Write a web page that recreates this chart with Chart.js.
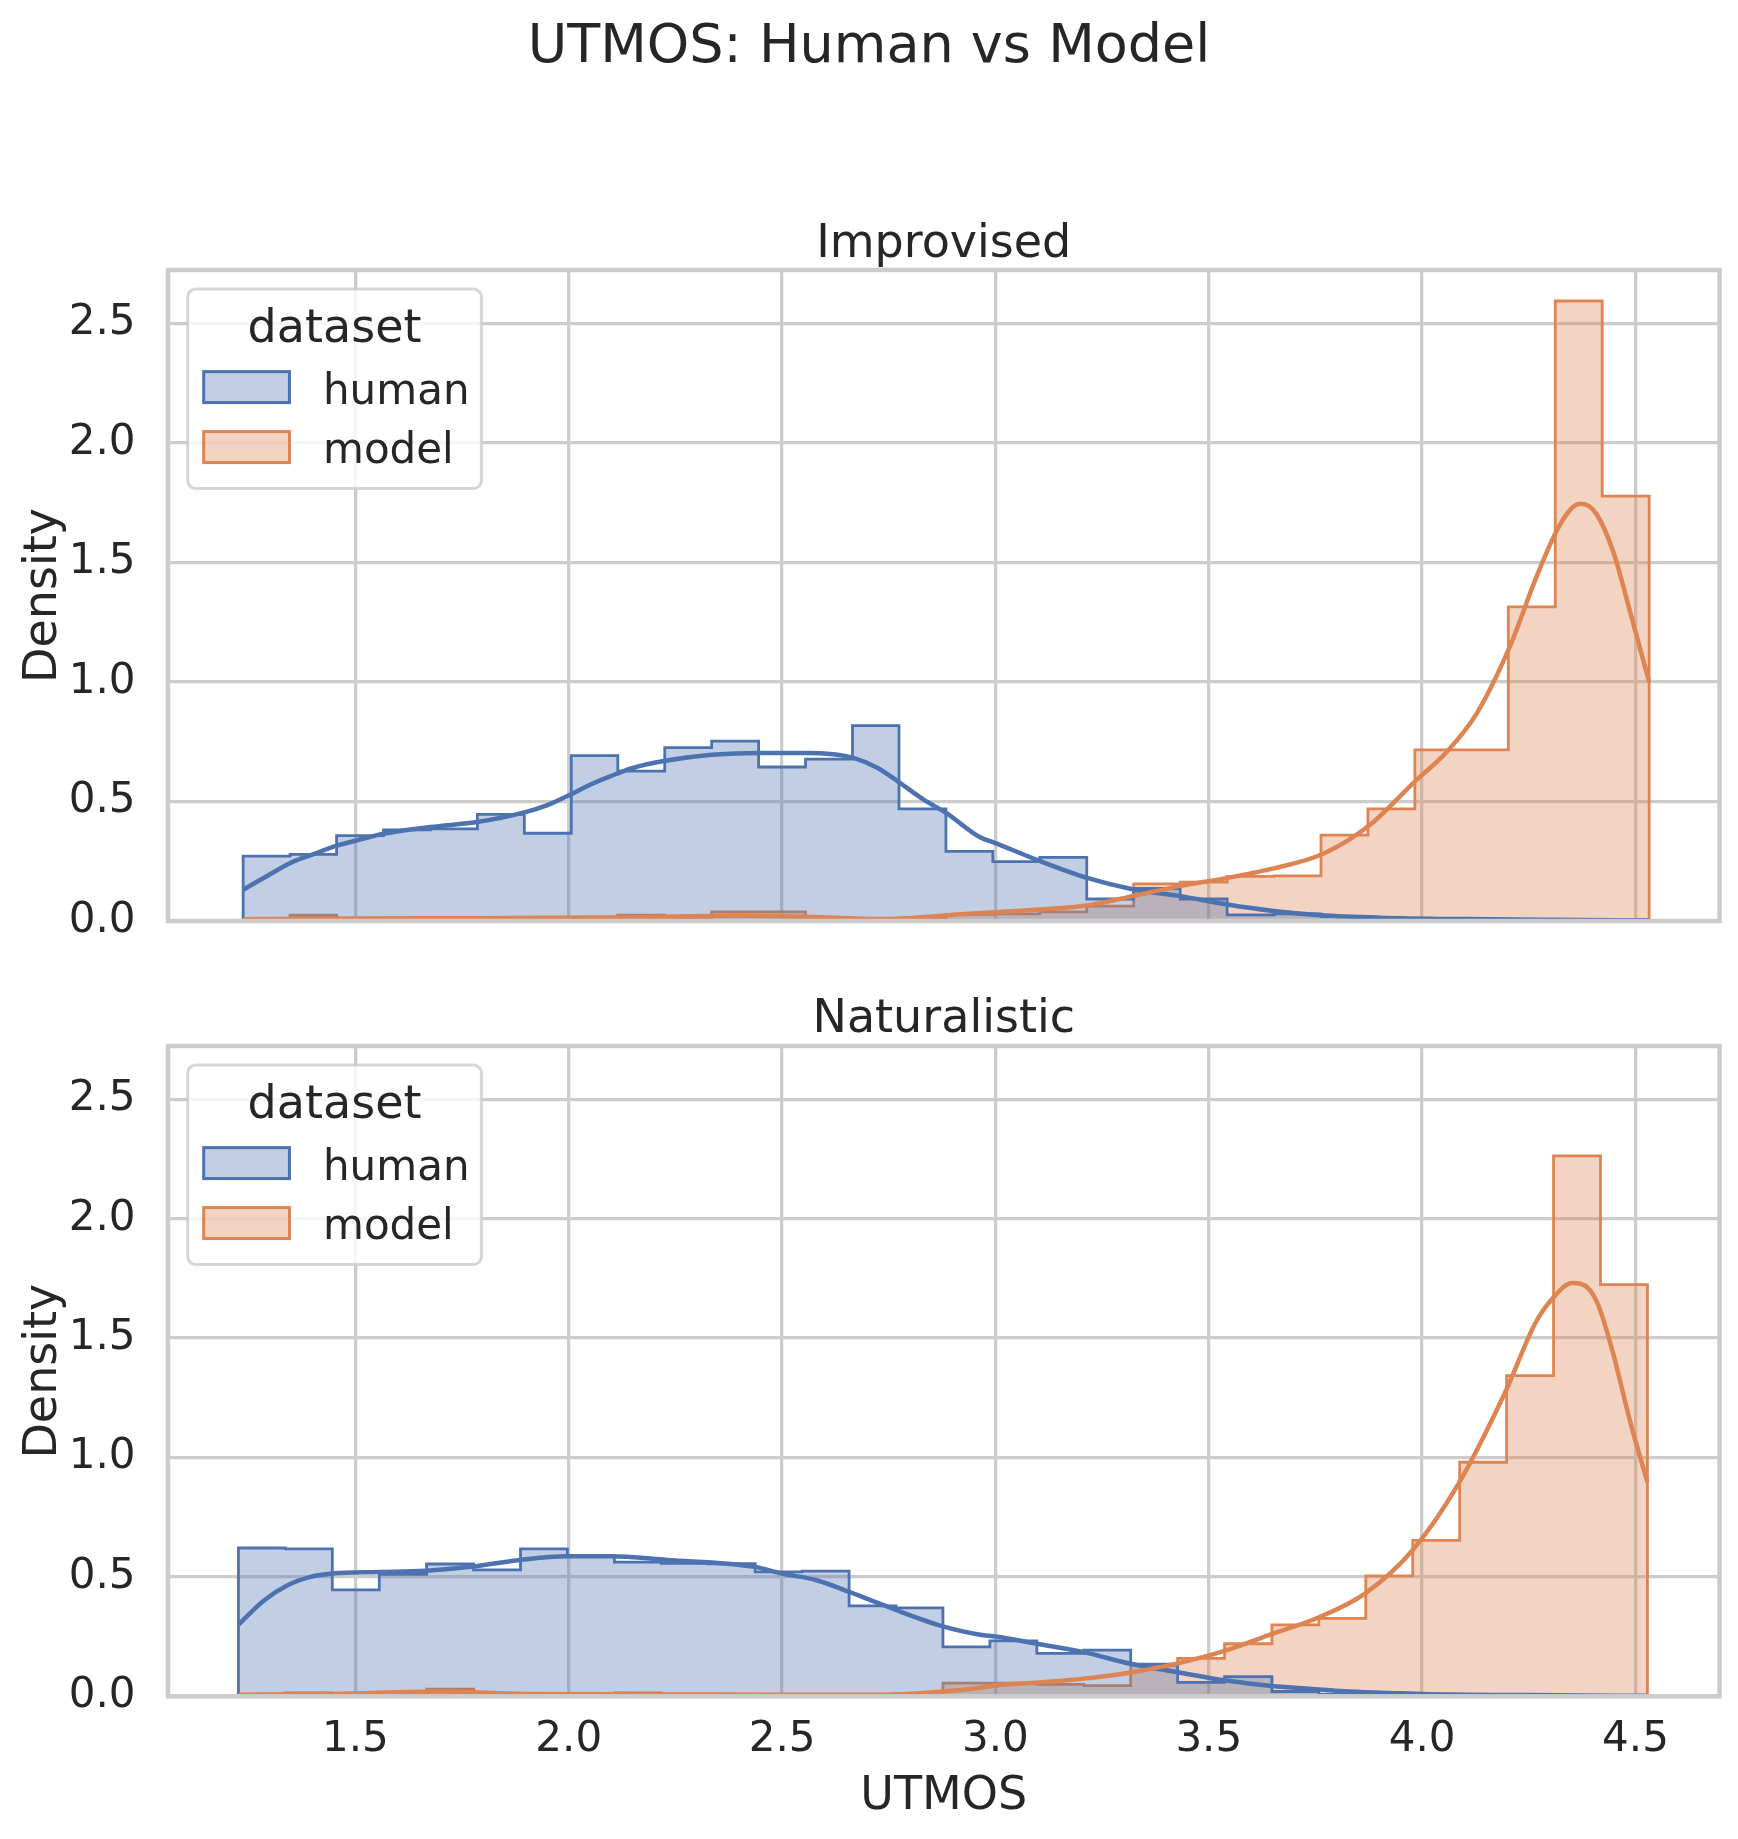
<!DOCTYPE html>
<html>
<head>
<meta charset="utf-8">
<title>UTMOS: Human vs Model</title>
<script src="https://cdn.jsdelivr.net/npm/chart.js@4.4.1/dist/chart.umd.min.js"></script>
<style>
  html, body { margin: 0; padding: 0; background: #ffffff; }
  #wrap { position: relative; width: 1738px; height: 1839px; }
  canvas { position: absolute; left: 0; }
  #suptitle {
    position: absolute; left: 0; top: 17px; width: 1738px; text-align: center;
    font: 54px/54px "DejaVu Sans", sans-serif; color: #262626; white-space: nowrap;
  }
</style>
</head>
<body>
<div id="wrap">
  <div id="suptitle">UTMOS: Human vs Model</div>
  <canvas id="improvised" width="1738" height="990" style="top:0px"></canvas>
  <canvas id="naturalistic" width="1738" height="879" style="top:960px"></canvas>
</div>
<script>
const hueLabels = ['human', 'model'];
const xTicks = [1.5, 2.0, 2.5, 3.0, 3.5, 4.0, 4.5];
const yTicks = [0.0, 0.5, 1.0, 1.5, 2.0, 2.5];

// Improvised facet: 30 histogram bins (edges)
const improvisedEdges = [1.237, 1.347, 1.456, 1.566, 1.676, 1.786, 1.896, 2.006, 2.115, 2.225,
  2.335, 2.445, 2.555, 2.665, 2.774, 2.884, 2.994, 3.104, 3.214, 3.324,
  3.433, 3.543, 3.653, 3.763, 3.873, 3.983, 4.092, 4.202, 4.312, 4.422, 4.532];
const improvisedHuman = [0.271, 0.279, 0.357, 0.381, 0.385, 0.446, 0.367, 0.692, 0.627, 0.725,
  0.752, 0.644, 0.677, 0.817, 0.469, 0.291, 0.248, 0.266, 0.092, 0.136,
  0.092, 0.026, 0.030, 0.018, 0.008, 0.005, 0.003, 0.003, 0.000, 0.002];
const improvisedModel = [0.008, 0.024, 0.008, 0.008, 0.013, 0.006, 0.013, 0.008, 0.024, 0.010,
  0.038, 0.038, 0.012, 0.008, 0.012, 0.028, 0.030, 0.038, 0.062, 0.155,
  0.163, 0.187, 0.189, 0.359, 0.469, 0.716, 0.716, 1.314, 2.593, 1.777];

// Improvised KDE curves
const improvisedHumanKdeX = [1.237, 1.285, 1.35, 1.402, 1.457, 1.52, 1.566, 1.676, 1.789, 1.894,
  1.95, 2.003, 2.05, 2.097, 2.15, 2.226, 2.335, 2.447, 2.558, 2.62, 2.667, 2.722, 2.776, 2.83,
  2.886, 2.964, 3.0, 3.105, 3.215, 3.324, 3.434, 3.543, 3.652, 3.763, 3.9, 4.1, 4.3, 4.532];
const improvisedHumanKdeY = [0.131, 0.18, 0.245, 0.28, 0.315, 0.345, 0.365, 0.393, 0.415, 0.453,
  0.485, 0.528, 0.57, 0.605, 0.64, 0.67, 0.695, 0.703, 0.703, 0.697, 0.682, 0.642, 0.578, 0.51,
  0.45, 0.35, 0.326, 0.25, 0.18, 0.132, 0.104, 0.069, 0.042, 0.024, 0.014, 0.008, 0.005, 0.003];
const improvisedModelKdeX = [1.237, 1.5, 1.8, 2.1, 2.4, 2.6, 2.75, 2.8, 2.918, 3.0, 3.105, 3.215,
  3.324, 3.434, 3.543, 3.652, 3.767, 3.875, 3.984, 4.057, 4.127, 4.205, 4.267, 4.315, 4.351,
  4.372, 4.407, 4.449, 4.49, 4.532];
const improvisedModelKdeY = [0.007, 0.01, 0.012, 0.015, 0.022, 0.015, 0.008, 0.012, 0.028, 0.037,
  0.048, 0.065, 0.105, 0.147, 0.18, 0.22, 0.28, 0.398, 0.585, 0.706, 0.865, 1.145, 1.435, 1.631,
  1.728, 1.745, 1.706, 1.538, 1.276, 1.0];

// Naturalistic facet
const naturalisticEdges = [1.226, 1.336, 1.446, 1.556, 1.667, 1.777, 1.887, 1.997, 2.107, 2.217,
  2.327, 2.437, 2.547, 2.657, 2.767, 2.877, 2.987, 3.097, 3.207, 3.317,
  3.427, 3.537, 3.648, 3.758, 3.868, 3.978, 4.088, 4.198, 4.308, 4.418, 4.528];
const naturalisticHuman = [0.621, 0.617, 0.446, 0.511, 0.554, 0.529, 0.617, 0.590, 0.562, 0.557,
  0.555, 0.521, 0.524, 0.379, 0.370, 0.207, 0.232, 0.180, 0.193, 0.135,
  0.058, 0.082, 0.020, 0.008, 0.004, 0.002, 0.002, 0.000, 0.000, 0.002];
const naturalisticModel = [0.007, 0.014, 0.007, 0.007, 0.030, 0.007, 0.007, 0.007, 0.014, 0.007,
  0.007, 0.007, 0.007, 0.007, 0.010, 0.055, 0.055, 0.050, 0.045, 0.130,
  0.159, 0.220, 0.299, 0.326, 0.504, 0.653, 0.980, 1.343, 2.263, 1.724];

const naturalisticHumanKdeX = [1.226, 1.285, 1.34, 1.395, 1.446, 1.556, 1.666, 1.776, 1.886, 1.996,
  2.097, 2.23, 2.433, 2.5, 2.581, 2.659, 2.753, 2.877, 2.964, 3.0, 3.097, 3.207, 3.317, 3.427,
  3.537, 3.647, 3.757, 3.808, 4.0, 4.25, 4.528];
const naturalisticHumanKdeY = [0.30, 0.40, 0.464, 0.50, 0.514, 0.52, 0.526, 0.543, 0.571, 0.586,
  0.586, 0.571, 0.543, 0.514, 0.486, 0.436, 0.371, 0.293, 0.258, 0.25, 0.22, 0.185, 0.136, 0.101,
  0.067, 0.043, 0.029, 0.022, 0.01, 0.005, 0.002];
const naturalisticModelKdeX = [1.226, 1.45, 1.7, 1.9, 2.2, 2.5, 2.75, 2.877, 2.964, 3.0, 3.1, 3.207,
  3.317, 3.427, 3.537, 3.647, 3.757, 3.866, 3.975, 4.084, 4.196, 4.264, 4.303, 4.352, 4.39,
  4.414, 4.446, 4.488, 4.528];
const naturalisticModelKdeY = [0.007, 0.01, 0.02, 0.01, 0.008, 0.006, 0.007, 0.02, 0.036, 0.045,
  0.058, 0.074, 0.10, 0.138, 0.19, 0.26, 0.33, 0.43, 0.606, 0.886, 1.278, 1.558, 1.66, 1.73,
  1.707, 1.632, 1.446, 1.147, 0.896];

const X_MIN = 1.0609, X_MAX = 4.6969, Y_MAX = 2.7227;
const colors = ['#4c72b0', '#dd8452'];
const fills = ['rgba(76,114,176,0.35)', 'rgba(221,132,82,0.35)'];
const textColor = '#262626';
const gridColor = '#cccccc';

Chart.defaults.font.family = '"DejaVu Sans", sans-serif';
Chart.defaults.color = textColor;

// step outline points: each bin value held from its left edge to the next edge
function stepPoints(edges, values) {
  const pts = [{ x: edges[0], y: 0 }];
  values.forEach((v, i) => pts.push({ x: edges[i], y: v }));
  pts.push({ x: edges[edges.length - 1], y: values[values.length - 1] });
  pts.push({ x: edges[edges.length - 1], y: 0 });
  return pts;
}

const zip = (xs, ys) => xs.map((x, i) => ({ x, y: ys[i] }));

// axis frame and the "dataset" legend box
const frameAndLegend = {
  id: 'frameAndLegend',
  afterDatasetsDraw(chart) {
    const { ctx, chartArea: a } = chart;
    ctx.save();
    ctx.strokeStyle = gridColor;
    ctx.lineWidth = 4.5;
    ctx.strokeRect(a.left, a.top, a.right - a.left, a.bottom - a.top);

    const bx = a.left + 19.7, by = a.top + 19, bw = 293.7, bh = 199.5;
    ctx.beginPath();
    ctx.roundRect(bx, by, bw, bh, 8);
    ctx.fillStyle = 'rgba(255,255,255,0.8)';
    ctx.fill();
    ctx.lineWidth = 3;
    ctx.strokeStyle = 'rgba(204,204,204,0.8)';
    ctx.stroke();

    ctx.fillStyle = textColor;
    ctx.textBaseline = 'alphabetic';
    ctx.textAlign = 'center';
    ctx.font = '46px "DejaVu Sans"';
    ctx.fillText('dataset', bx + bw / 2, by + 53);

    ctx.textAlign = 'left';
    ctx.font = '42px "DejaVu Sans"';
    hueLabels.forEach((label, i) => {
      const py = by + 82.6 + i * 60;
      ctx.fillStyle = fills[i];
      ctx.fillRect(bx + 16, py, 85.75, 31);
      ctx.strokeStyle = colors[i];
      ctx.lineWidth = 3;
      ctx.strokeRect(bx + 16, py, 85.75, 31);
      ctx.fillStyle = textColor;
      ctx.fillText(label, bx + 135.3, by + 114.7 + i * 59.4);
    });
    ctx.restore();
  }
};

function makePanel(canvasId, cfg) {
  const datasets = [
    { label: 'model kde', data: zip(cfg.modelKdeX, cfg.modelKdeY), borderColor: colors[1],
      borderWidth: 4.5, cubicInterpolationMode: 'monotone', fill: false, order: 0 },
    { label: 'human kde', data: zip(cfg.humanKdeX, cfg.humanKdeY), borderColor: colors[0],
      borderWidth: 4.5, cubicInterpolationMode: 'monotone', fill: false, order: 1 },
    { label: hueLabels[0], data: stepPoints(cfg.edges, cfg.human), stepped: true,
      borderColor: colors[0], backgroundColor: fills[0], borderWidth: 2.8, fill: 'origin', order: 2 },
    { label: hueLabels[1], data: stepPoints(cfg.edges, cfg.model), stepped: true,
      borderColor: colors[1], backgroundColor: fills[1], borderWidth: 2.8, fill: 'origin', order: 3 }
  ];

  return new Chart(document.getElementById(canvasId), {
    type: 'line',
    data: { datasets },
    options: {
      responsive: false,
      animation: false,
      events: [],
      elements: { point: { radius: 0 } },
      layout: { padding: { top: cfg.padTop, right: 18.5, bottom: 0, left: 0 } },
      plugins: {
        legend: { display: false },
        tooltip: { enabled: false },
        title: { display: false },
        subtitle: {
          display: true, text: cfg.title, color: textColor, fullSize: false,
          font: { size: 46, weight: 'normal', lineHeight: 1 },
          padding: { top: 0, bottom: cfg.titleGap }
        }
      },
      scales: {
        x: {
          type: 'linear', min: X_MIN, max: X_MAX, bounds: 'data',
          afterBuildTicks: s => { s.ticks = xTicks.map(v => ({ value: v })); },
          ticks: {
            display: cfg.showX, padding: 19, color: textColor,
            font: { size: 42 }, callback: v => v.toFixed(1)
          },
          grid: { color: gridColor, lineWidth: 3.3, drawTicks: false },
          border: { display: false },
          title: {
            display: cfg.showX, text: 'UTMOS', color: textColor,
            font: { size: 46 }, padding: { top: 0, bottom: 14.4 }
          },
          afterFit: s => { s.height = cfg.xHeight; }
        },
        y: {
          min: 0, max: Y_MAX, bounds: 'data',
          afterBuildTicks: s => { s.ticks = yTicks.map(v => ({ value: v })); },
          ticks: { padding: 32.5, color: textColor, font: { size: 42 }, callback: v => v.toFixed(1) },
          grid: { color: gridColor, lineWidth: 3.3, drawTicks: false },
          border: { display: false },
          title: {
            display: true, text: 'Density', color: textColor,
            font: { size: 46 }, padding: { top: 16, bottom: 0 }
          },
          afterFit: s => { s.width = 168; }
        }
      }
    },
    plugins: [frameAndLegend]
  });
}

makePanel('improvised', {
  title: 'Improvised', padTop: 222, titleGap: 2, xHeight: 69, showX: false,
  edges: improvisedEdges, human: improvisedHuman, model: improvisedModel,
  humanKdeX: improvisedHumanKdeX, humanKdeY: improvisedHumanKdeY,
  modelKdeX: improvisedModelKdeX, modelKdeY: improvisedModelKdeY
});

makePanel('naturalistic', {
  title: 'Naturalistic', padTop: 37, titleGap: 3, xHeight: 142.7, showX: true,
  edges: naturalisticEdges, human: naturalisticHuman, model: naturalisticModel,
  humanKdeX: naturalisticHumanKdeX, humanKdeY: naturalisticHumanKdeY,
  modelKdeX: naturalisticModelKdeX, modelKdeY: naturalisticModelKdeY
});
</script>
</body>
</html>
